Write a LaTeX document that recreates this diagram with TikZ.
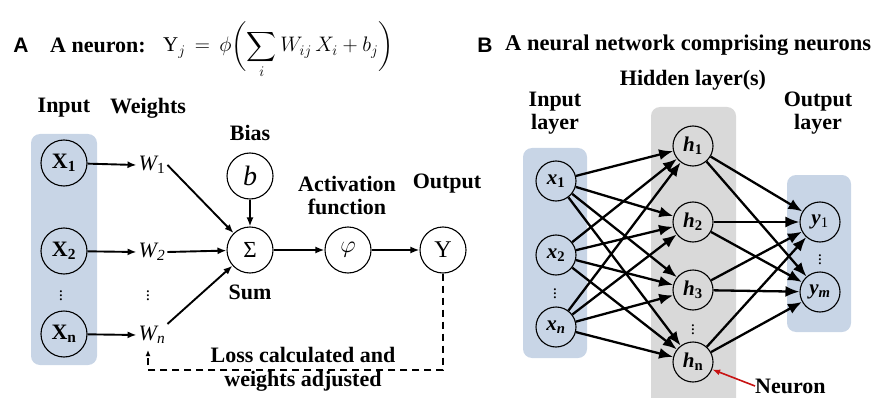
\documentclass[tikz,border=0pt]{standalone}
\usepackage{fix-cm}
\usepackage{exscale}
\usepackage{amsmath}
\usepackage{fontspec}
\setmainfont{Liberation Serif}
\newfontfamily\panelfont{Liberation Sans}
\usetikzlibrary{arrows.meta,calc}
\definecolor{inblue}{RGB}{200,213,230}
\definecolor{hidgray}{RGB}{217,217,217}
\definecolor{arrred}{RGB}{200,20,20}
\begin{document}
\begin{tikzpicture}[x=1pt,y=-1pt,
  lbl/.style={font=\fontsize{22}{25}\selectfont\bfseries, align=center, inner sep=1pt},
  neuA/.style={circle,draw,line width=1.1pt,minimum size=46pt,inner sep=0pt,font=\fontsize{22}{24}\selectfont},
  neuB/.style={circle,draw,line width=1.1pt,minimum size=40pt,inner sep=0pt,font=\fontsize{21}{24}\selectfont\bfseries\itshape},
  wlbl/.style={font=\fontsize{22}{24}\selectfont\itshape, inner sep=2pt},
  arrA/.style={-{Latex[length=9pt,width=7pt]},line width=1.9pt},
  arrB/.style={-{Latex[length=14pt,width=11pt]},line width=2.3pt},
  panelbox/.style={rounded corners=9pt},
  dotsA/.style={font=\fontsize{17}{17}\selectfont, inner sep=0pt}
]
\useasboundingbox (0,0) rectangle (874,398);

% ---------- Panel A ----------
\node[anchor=center, font=\panelfont\fontsize{21}{24}\selectfont\bfseries] (tA) at (21,45) {A};
\node[anchor=west, font=\fontsize{22}{24}\selectfont\bfseries, inner sep=0pt] (tAtxt) at (50,45) {A neuron:};
\node[anchor=base west, inner sep=0pt, font=\fontsize{21}{24}\selectfont] (formula) at (163,52)
  {$\displaystyle \mathrm{Y}_j \,=\, \phi\biggl(\sum_i W_{ij}\,X_i + b_j\biggr)$};

\fill[inblue, panelbox] (31,134) rectangle (97,365);

\node[lbl] (lInput) at (64,108) {Input};
\node[lbl] (lWeights) at (148,108) {Weights};
\node[lbl] (lBias) at (250,133) {Bias};
\node[lbl] (lAct) at (347,196) {Activation\\[-2pt]function};
\node[lbl] (lOut) at (447,184) {Output};
\node[lbl] (lSum) at (250,292) {Sum};

\node[neuA, font=\fontsize{22}{24}\selectfont\bfseries] (X1) at (64,163) {X\textsubscript{1}};
\node[neuA, font=\fontsize{22}{24}\selectfont\bfseries] (X2) at (64,251) {X\textsubscript{2}};
\node[neuA, font=\fontsize{22}{24}\selectfont\bfseries] (Xn) at (64,334) {X\textsubscript{n}};
\node[dotsA] (dX) at (61,293) {$\vdots$};

\node[wlbl] (W1) at (152,165) {W\textsubscript{\upshape 1}};
\node[wlbl] (W2) at (152,252) {W\textsubscript{2}};
\node[wlbl] (Wn) at (152,335) {W\textsubscript{n}};
\node[dotsA] (dW) at (148,293) {$\vdots$};

\node[neuA] (S) at (250,250) {\fontsize{23}{24}\selectfont Σ};
\node[neuA] (B) at (250,176) {\fontsize{28}{28}\selectfont\itshape b};
\node[neuA] (P) at (348,250) {\fontsize{24}{24}\selectfont$\varphi$};
\node[neuA] (Y) at (443,250) {\fontsize{24}{24}\selectfont Y};

\draw[arrA] (X1) -- (W1.west);
\draw[arrA] (X2) -- (W2.west);
\draw[arrA] (Xn) -- (Wn.west);
\draw[arrA] (W1.east) -- (S);
\draw[arrA] (W2.east) -- (S);
\draw[arrA] (Wn.north east) -- (S);
\draw[arrA] (B) -- (S);
\draw[arrA] (S) -- (P);
\draw[arrA] (P) -- (Y);

\coordinate (lc) at (148,370);
\coordinate (lend) at (148,350);
\draw[-{Latex[length=6pt,width=5pt]}, line width=1.9pt, dash pattern=on 7pt off 5pt] (Y.south) |- (lc) -- (lend);
\node[lbl] (lLoss) at (303,369) {Loss calculated and\\[-1pt]weights adjusted};

% ---------- Panel B ----------
\node[anchor=center, font=\panelfont\fontsize{21}{24}\selectfont\bfseries] (tB) at (485,45) {B};
\node[anchor=west, font=\fontsize{22.5}{24}\selectfont\bfseries, inner sep=0pt] (tBtxt) at (505,45) {A neural network comprising neurons};

\fill[inblue, panelbox] (523,148) rectangle (587,358);
\fill[hidgray, panelbox] (651,107) rectangle (736,410);
\fill[inblue, panelbox] (787,175) rectangle (851,332);

\node[lbl] (lHid) at (693,80) {Hidden layer(s)};
\node[lbl] (lIn) at (555,113) {Input\\[-2pt]layer};
\node[lbl] (lOutB) at (818,113) {Output\\[-2pt]layer};

\node[neuB] (x1) at (556,181) {x\textsubscript{\upshape 1}};
\node[neuB] (x2) at (556,255) {x\textsubscript{\upshape 2}};
\node[neuB] (xn) at (556,327) {x\textsubscript{n}};
\node[dotsA] (dx) at (555,291) {$\vdots$};

\node[neuB] (h1) at (693,146) {h\textsubscript{\upshape 1}};
\node[neuB] (h2) at (693,222) {h\textsubscript{\upshape 2}};
\node[neuB] (h3) at (693,290) {h\textsubscript{\upshape 3}};
\node[neuB] (hn) at (693,362) {h\textsubscript{\upshape n}};
\node[dotsA] (dh) at (693,327) {$\vdots$};

\node[neuB] (y1) at (820,222) {y\textsubscript{\upshape\mdseries 1}};
\node[neuB] (ym) at (820,292) {y\textsubscript{m}};
\node[dotsA] (dy) at (820,257) {$\vdots$};

\foreach \i in {x1,x2,xn} \foreach \j in {h1,h2,h3,hn} \draw[arrB] (\i) -- (\j);
\foreach \i in {h1,h2,h3,hn} \foreach \j in {y1,ym} \draw[arrB] (\i) -- (\j);

\node[lbl, anchor=west, inner sep=0pt] (lNeuron) at (755,386) {Neuron};
\draw[-{Latex[length=8pt,width=6pt]}, arrred, line width=1.6pt] (lNeuron.west) -- (hn);
\end{tikzpicture}
\end{document}
